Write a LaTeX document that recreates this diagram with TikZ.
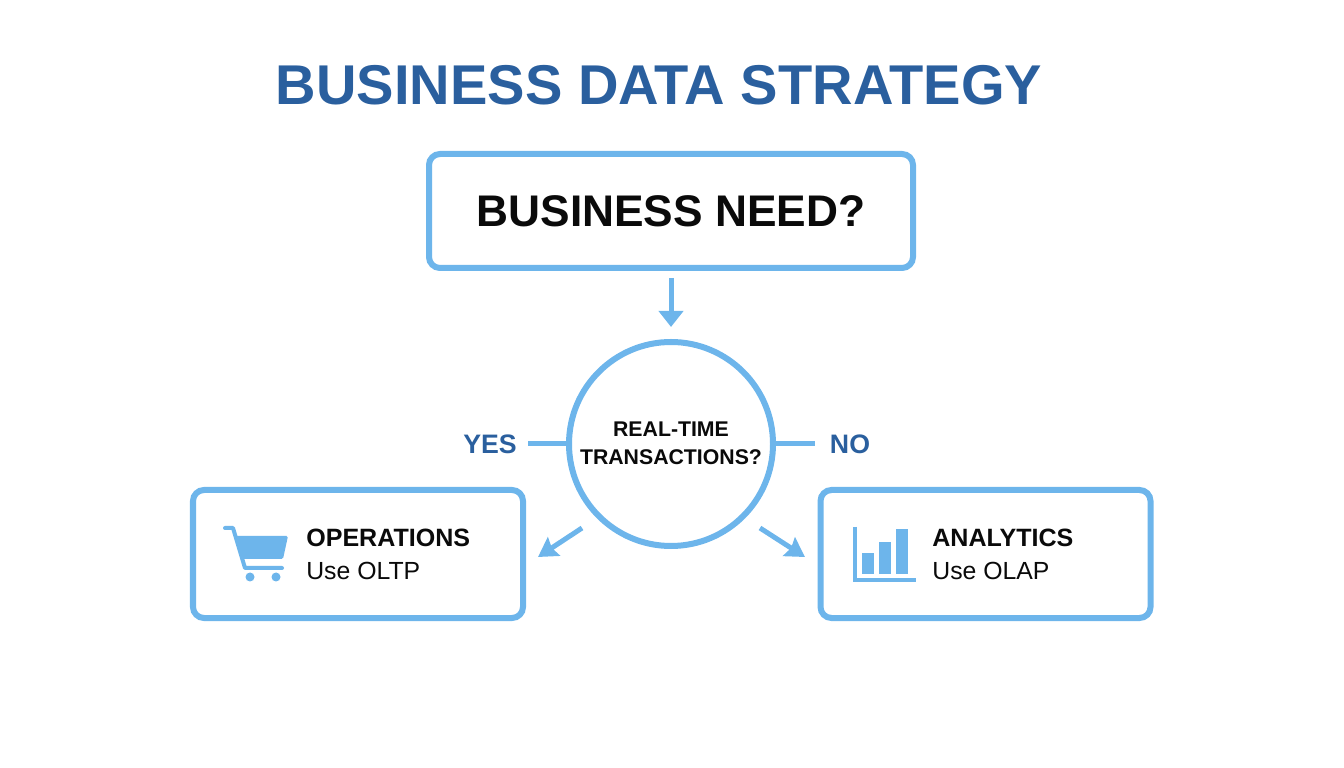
\documentclass[tikz,border=0pt]{standalone}
\usepackage{fontspec}
\setmainfont{Liberation Sans}
\usetikzlibrary{arrows.meta, positioning}
\definecolor{dsline}{HTML}{6DB5EB}
\definecolor{dstitle}{HTML}{2A5F9E}
\definecolor{dstext}{HTML}{0A0A0A}

\begin{document}
\begin{tikzpicture}[
    x=0.2mm, y=-0.2mm,
    box/.style={rectangle, rounded corners=2.2mm, draw=dsline, line width=1.2mm, fill=white, minimum width=#1, minimum height=25.6mm},
    flow/.style={draw=dsline, line width=1mm},
    head/.style={font=\bfseries\fontsize{14.25}{16}\selectfont, text=dstext, anchor=base west, inner sep=0pt},
    sub/.style={font=\fontsize{14.1}{16}\selectfont, text=dstext, anchor=base west, inner sep=0pt},
    answer/.style={font=\bfseries\fontsize{15.2}{18}\selectfont, text=dstitle, inner sep=0pt},
]
\useasboundingbox (0,0) rectangle (1344,768);

\node[font=\bfseries\fontsize{31.9}{36}\selectfont, text=dstitle, inner sep=0pt, anchor=base] (title) at (659,105) {BUSINESS DATA STRATEGY};

\node[box=96.8mm, minimum height=22.8mm, font=\bfseries\fontsize{25.2}{30}\selectfont, text=dstext] (need) at (671,211) {BUSINESS NEED?};
\node[circle, draw=dsline, line width=1.2mm, fill=white, minimum size=40.8mm, inner sep=0pt, align=center, font=\bfseries\fontsize{12.1}{16.4}\selectfont, text=dstext] (decide) at (671,444) {\raisebox{0.3mm}{REAL-TIME}\\\raisebox{0.3mm}{TRANSACTIONS?}};
\node[box=66mm] (ops) at (358,554) {};
\node[box=66mm] (ana) at (985.5,554) {};

\node[answer] (yes) at (490,444) {YES};
\node[answer] (no) at (850,444) {NO};

\coordinate (opsend) at (538,557);
\coordinate (anaend) at (805,557);
\coordinate (opsstart) at (582,528);
\coordinate (anastart) at (760,528);

\draw[flow, shorten <=1.4mm, shorten >=2.4mm, -{Triangle[width=4.8mm, length=3.2mm]}] (need.south) -- (decide.north);
\draw[flow, shorten <=2.2mm] (yes.east) -- (decide.west);
\draw[flow, shorten >=3mm] (decide.east) -- (no.west);
\draw[flow, -{Stealth[width=4.4mm, length=3.8mm, inset=0.5mm]}] (opsstart) -- (opsend);
\draw[flow, -{Stealth[width=4.4mm, length=3.8mm, inset=0.5mm]}] (anastart) -- (anaend);

% cart
\draw[draw=dsline, line width=0.8mm, line join=round, line cap=round] (225,528) -- (233,528) -- (245,568) -- (282,568);
\fill[dsline, rounded corners=0.3mm] (235,536) -- (288,536) -- (283,559) -- (242,559) -- cycle;
\fill[dsline] (250,577) circle (4.5);
\fill[dsline] (276,577) circle (4.5);

% bars
\draw[draw=dsline, line width=0.8mm] (855,527) -- (855,580) -- (916,580);
\fill[dsline] (862,553) rectangle (874,574);
\fill[dsline] (879,542) rectangle (891,574);
\fill[dsline] (896,529) rectangle (908,574);

\node[head] (opshead) at (306,547) {OPERATIONS};
\node[sub] (opssub) at (306,580) {Use OLTP};
\node[head] (anahead) at (932,547) {ANALYTICS};
\node[sub] (anasub) at (932,580) {Use OLAP};
\end{tikzpicture}
\end{document}
